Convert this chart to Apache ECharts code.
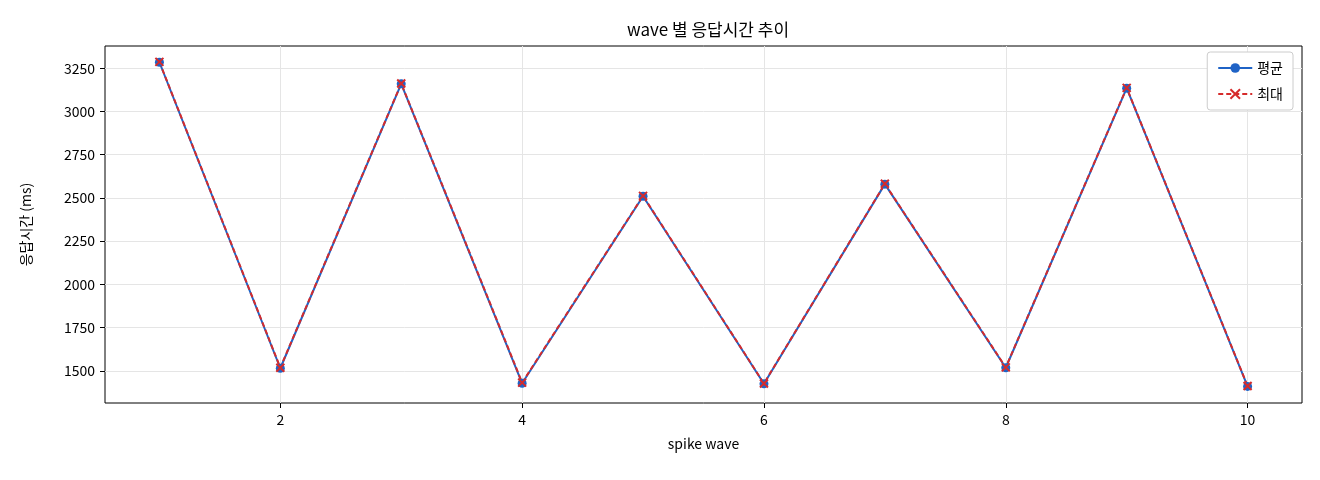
<!DOCTYPE html>
<html><head><meta charset="utf-8">
<script src="https://cdn.jsdelivr.net/npm/echarts@6/dist/echarts.min.js"></script>
<style>html,body{margin:0;padding:0;background:#fff}#c{width:1320px;height:480px}</style>
</head><body><div id="c"></div>
<script>
const waves = [1,2,3,4,5,6,7,8,9,10];
const avgVals = [3285,1515,3160,1428,2510,1425,2580,1518,3135,1410];
const maxVals = [3287,1518,3162,1432,2512,1427,2582,1520,3137,1412];
const xTicks = [2,4,6,8,10];
const yTicks = [1500,1750,2000,2250,2500,2750,3000,3250];
const F = '"Noto Sans CJK KR", "DejaVu Sans", sans-serif';
const xPath = 'path://M0,0L10,10M10,0L0,10';
const chart = echarts.init(document.getElementById('c'));
const gridLine = {show:true, lineStyle:{color:'#e5e5e5', width:1}};
chart.setOption({
  animation:false,
  title:{text:'wave 별 응답시간 추이', left:703, top:16, textAlign:'center',
    textStyle:{fontFamily:F, fontSize:17, fontWeight:'normal', color:'#000'}},
  legend:{right:27, top:52, orient:'vertical', itemGap:12, itemWidth:34, itemHeight:12,
    backgroundColor:'#fff', borderColor:'#ccc', borderWidth:1, borderRadius:3, padding:[9,10],
    textStyle:{fontFamily:F, fontSize:14, color:'#000'}},
  grid:{left:105, right:18, top:46, bottom:77, show:true, borderColor:'#000', borderWidth:1},
  xAxis:{type:'value', min:0.55, max:10.45, name:'spike wave', nameLocation:'middle', nameGap:34,
    nameTextStyle:{fontFamily:F, fontSize:14, color:'#000'},
    axisLine:{show:false},
    axisTick:{show:true, customValues:xTicks, length:5, lineStyle:{color:'#000'}},
    axisLabel:{customValues:xTicks, fontFamily:F, fontSize:14, color:'#000', margin:10},
    splitLine:gridLine},
  yAxis:{type:'value', min:1314, max:3379, name:'응답시간 (ms)', nameLocation:'middle', nameGap:72,
    nameTextStyle:{fontFamily:F, fontSize:14, color:'#000'},
    axisLine:{show:false},
    axisTick:{show:true, customValues:yTicks, length:5, lineStyle:{color:'#000'}},
    axisLabel:{customValues:yTicks, formatter:v=>String(v), fontFamily:F, fontSize:14, color:'#000', margin:10},
    splitLine:gridLine},
  series:[
    {name:'평균', type:'line', data:waves.map((w,i)=>[w,avgVals[i]]), symbol:'circle', symbolSize:9,
      itemStyle:{color:'#1f63c6'}, lineStyle:{color:'#1f63c6', width:2}},
    {name:'최대', type:'line', data:waves.map((w,i)=>[w,maxVals[i]]), symbol:xPath, symbolSize:8,
      itemStyle:{color:'#d62b2b', borderColor:'#d62b2b', borderWidth:2}, lineStyle:{color:'#d62b2b', width:2, type:[5,3]}}
  ]
});
</script></body></html>
